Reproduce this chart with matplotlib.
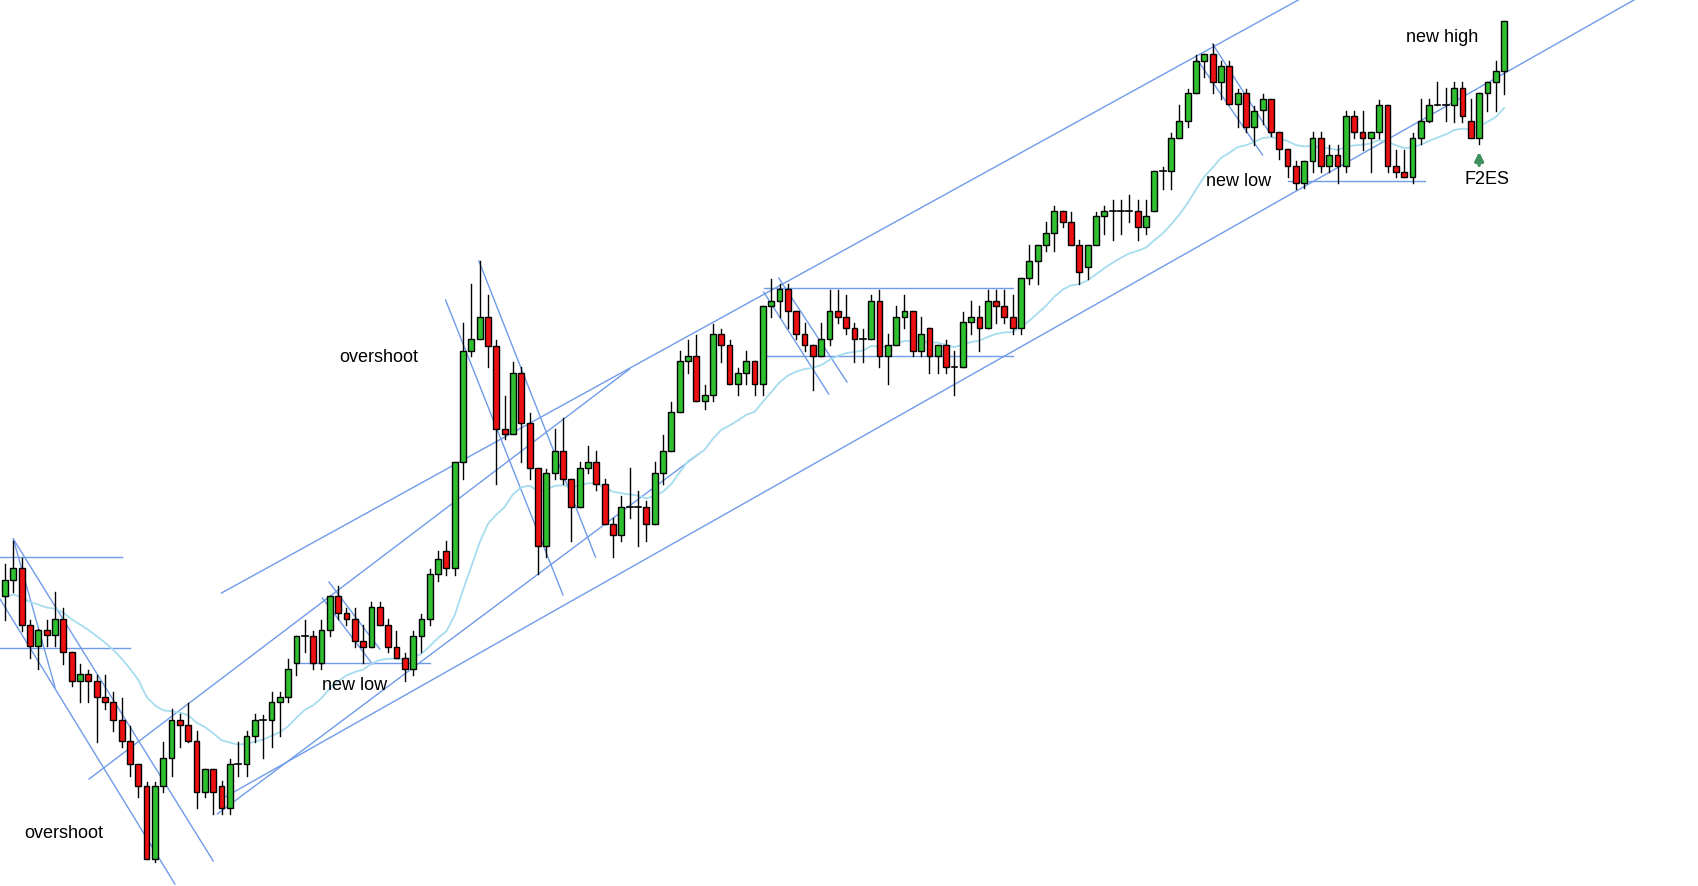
import matplotlib
matplotlib.use("Agg")
import matplotlib.pyplot as plt
import numpy as np

plt.rcParams['font.family'] = ['Liberation Sans', 'DejaVu Sans']

opens  = [303,319,331,274,253,269,264,280,247,218,225,218,202,197,179,158,135,113,40,113,141,179,174,158,107,130,113,91,135,135,163,
          179,179,197,202,236,263,263,236,269,303,286,280,258,252,292,274,252,241,230,263,280,325,348,331,437,548,560,582,553,470,
          465,526,476,431,353,426,448,420,392,431,437,415,375,364,392,392,392,375,426,448,487,538,543,498,504,565,554,515,526,538,
          515,593,598,610,588,565,554,543,560,588,582,571,560,560,598,543,554,582,588,548,571,543,554,532,532,577,582,571,598,593,
          582,571,621,638,654,666,688,677,654,632,654,683,688,688,688,688,672,688,728,728,761,778,806,838,845,817,833,795,806,772,
          789,800,767,750,733,716,738,761,733,744,733,783,767,761,767,794,733,727,722,761,778,794,794,794,811,778,761,806,817,828]
highs  = [335,358,341,279,270,279,307,291,247,235,229,224,224,207,201,173,135,117,117,157,190,185,196,168,130,130,118,140,157,168,185,
          184,207,207,240,263,279,268,279,303,313,291,291,274,297,297,280,268,246,268,285,330,348,358,437,576,615,638,604,559,503,
          537,532,486,431,430,470,481,420,437,453,448,420,381,403,431,408,398,437,464,497,548,559,564,514,575,570,559,531,548,538,
          593,620,615,615,588,576,554,576,609,609,604,576,570,604,609,565,593,604,588,582,571,554,559,548,587,598,593,609,609,609,
          604,621,654,654,677,693,688,687,659,654,687,693,699,699,704,699,699,728,732,766,794,810,844,845,855,838,838,810,810,793,
          805,800,767,750,738,738,767,767,754,754,788,788,788,767,799,794,749,749,766,800,800,817,811,817,817,800,806,817,838,878]
lows   = [279,307,268,241,230,253,253,235,213,197,197,157,190,168,152,123,102,40,37,107,123,152,157,91,102,85,85,85,123,123,157,
          141,152,163,197,224,247,230,230,263,280,274,252,236,252,274,247,241,218,224,247,274,318,324,324,420,543,560,532,415,460,
          465,437,420,325,342,420,415,358,392,426,409,375,342,358,381,353,358,375,415,448,487,526,498,490,498,537,515,504,515,504,
          504,582,582,571,560,548,509,543,554,576,565,537,537,560,532,515,554,571,543,543,526,526,526,504,532,565,548,571,576,576,
          565,565,615,615,648,648,672,654,615,620,654,665,659,665,677,659,665,688,710,710,761,772,806,822,806,800,795,772,767,754,
          775,763,740,722,710,711,727,727,727,716,727,761,749,727,761,727,722,722,716,755,777,794,778,777,777,761,755,788,788,805]
closes = [319,331,274,253,269,264,280,247,218,225,218,202,197,179,158,135,113,40,113,141,179,174,158,107,130,107,91,135,135,163,179,
          179,197,202,230,263,263,236,269,303,286,280,258,252,292,274,252,241,230,263,280,325,340,331,437,548,560,582,553,470,465,
          526,476,431,353,426,448,420,392,431,437,415,375,364,392,392,392,375,426,448,487,538,543,498,504,565,554,515,526,538,515,
          593,598,610,588,565,554,543,560,588,582,571,560,560,598,543,554,582,588,548,565,543,554,532,532,577,582,571,598,593,582,
          571,621,638,654,666,688,677,654,627,654,683,688,688,688,688,672,683,728,728,761,778,806,838,845,817,833,795,806,772,788,
          800,767,750,733,716,738,761,733,744,733,783,767,761,767,794,733,727,722,761,778,794,794,794,811,783,761,806,817,828,878]

n = len(closes)
x = np.arange(n)

# 20-period EMA of closes (indicator line)
ema = []
a = 2 / 21
prev = 300.0
for c in closes:
    prev = prev + a * (c - prev)
    ema.append(prev)

# trend lines in (bar index, price)
trendlines = [
    ((-0.6, 342), (14, 342)), ((-0.6, 251), (15, 251)),
    ((1.0, 360), (25.0, 38)), ((1.0, 360), (6.0, 212)), ((-0.6, 300), (20.4, 15)),
    ((10.1, 120), (75.0, 530)), ((26.0, 306), (155.5, 900)), ((26.0, 100), (195.8, 900)),
    ((25.5, 85), (83.3, 445)), ((52.9, 599), (67.0, 304)), ((56.9, 638), (70.9, 342)),
    ((38.9, 317), (45.0, 250)), ((38.1, 301), (44.1, 235)), ((35.1, 236), (51.0, 236)),
    ((91.1, 607), (98.9, 505)), ((92.9, 621), (101.1, 517)),
    ((91.1, 611), (121, 611)), ((91.1, 543), (121, 543)),
    ((143.1, 840), (151.0, 744)), ((145.0, 855), (152.1, 763)), ((154, 718), (170.5, 718)),
]

fig = plt.figure(figsize=(16.99, 8.87), dpi=100)
ax = fig.add_axes([0, 0, 1, 1])
ax.set_xlim(-0.6, 203.4)
ax.set_ylim(13, 900)
ax.axis("off")

for (x0, y0), (x1, y1) in trendlines:
    ax.plot([x0, x1], [y0, y1], color="#6f9be8", lw=1.0, zorder=1)

ax.plot(x, ema, color="#a6dcef", lw=1.3, zorder=2)

w = 0.7
for i in range(n):
    o, h, l, c = opens[i], highs[i], lows[i], closes[i]
    ax.plot([i, i], [l, h], color="black", lw=1.0, zorder=3)
    col = "#2fbf2f" if c > o else ("#ee1111" if c < o else "black")
    if c == o:
        ax.plot([i - w / 2, i + w / 2], [o, o], color="black", lw=1.2, zorder=4)
    else:
        ax.add_patch(plt.Rectangle((i - w / 2, min(o, c)), w, abs(c - o),
                                   facecolor=col, edgecolor="black", lw=1.0, zorder=4))

fs = 13
ax.text(7.0, 66, "overshoot", fontsize=fs, ha="center", va="center")
ax.text(44.9, 542, "overshoot", fontsize=fs, ha="center", va="center")
ax.text(42.0, 214, "new low", fontsize=fs, ha="center", va="center")
ax.text(148.1, 718, "new low", fontsize=fs, ha="center", va="center")
ax.text(172.5, 863, "new high", fontsize=fs, ha="center", va="center")
ax.text(178.0, 720, "F2ES", fontsize=fs, ha="center", va="center")
ax.annotate("", xy=(177, 750), xytext=(177, 731),
            arrowprops=dict(arrowstyle="-|>", color="#3f8f5f", lw=2.5, mutation_scale=12))

fig.savefig("out.png", dpi=100)
